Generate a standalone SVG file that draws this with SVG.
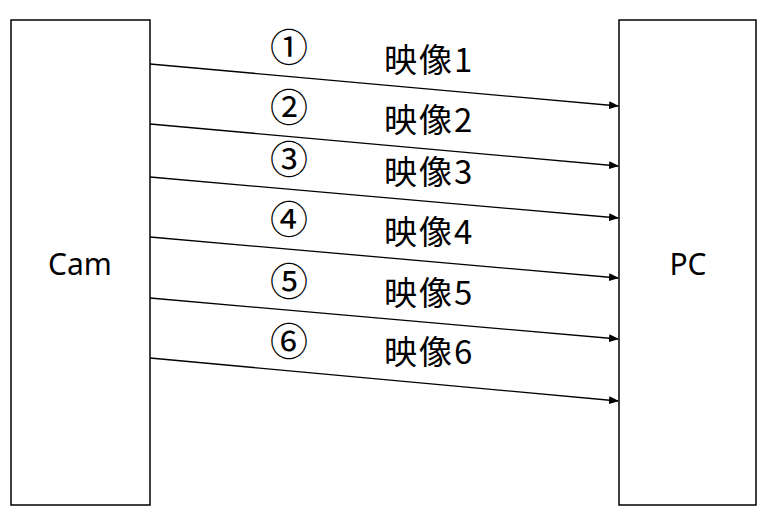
<svg xmlns="http://www.w3.org/2000/svg" width="761" height="513" viewBox="0 0 761 513">
<style>
.box{fill:#fff;stroke:#000;stroke-width:1.5}
.lbl{font-family:"Noto Sans","Noto Sans CJK JP",sans-serif;font-size:30px;fill:#000;text-anchor:middle}
.num{font-family:"Noto Sans CJK JP",sans-serif;font-size:38px;fill:#000;text-anchor:middle}
.jp{font-family:"Noto Sans CJK JP",sans-serif;font-size:33px;fill:#000}
.arr{stroke:#000;stroke-width:1.3;fill:none;marker-end:url(#ah)}
</style>
<defs>
<marker id="ah" markerWidth="10" markerHeight="8" refX="9" refY="4" orient="auto" markerUnits="userSpaceOnUse">
<path d="M0,0 L10,4 L0,8 Z" fill="#000"/>
</marker>
</defs>
<rect width="761" height="513" fill="#fff"/>
<g id="cam"><rect class="box" x="11" y="20" width="139" height="485"/><text class="lbl" x="80" y="275">Cam</text></g>
<g id="pc"><rect class="box" x="619" y="20" width="137" height="485"/><text class="lbl" x="688" y="275">PC</text></g>
<g id="connectors">
<line class="arr" x1="150" y1="64" x2="618" y2="106"/>
<line class="arr" x1="150" y1="124" x2="618" y2="166"/>
<line class="arr" x1="150" y1="177" x2="618" y2="218"/>
<line class="arr" x1="150" y1="237" x2="618" y2="278"/>
<line class="arr" x1="150" y1="298" x2="618" y2="339"/>
<line class="arr" x1="150" y1="358" x2="618" y2="401"/>
</g>
<g id="labels">
<text class="num" x="289" y="61">①</text>
<text class="num" x="289" y="121">②</text>
<text class="num" x="289" y="173">③</text>
<text class="num" x="289" y="233">④</text>
<text class="num" x="289" y="295">⑤</text>
<text class="num" x="289" y="355">⑥</text>
<text class="jp" x="384" y="72" letter-spacing="2">映像1</text>
<text class="jp" x="384" y="132" letter-spacing="2">映像2</text>
<text class="jp" x="384" y="184" letter-spacing="2">映像3</text>
<text class="jp" x="384" y="244" letter-spacing="2">映像4</text>
<text class="jp" x="384" y="305" letter-spacing="2">映像5</text>
<text class="jp" x="384" y="364" letter-spacing="2">映像6</text>
</g>
</svg>
